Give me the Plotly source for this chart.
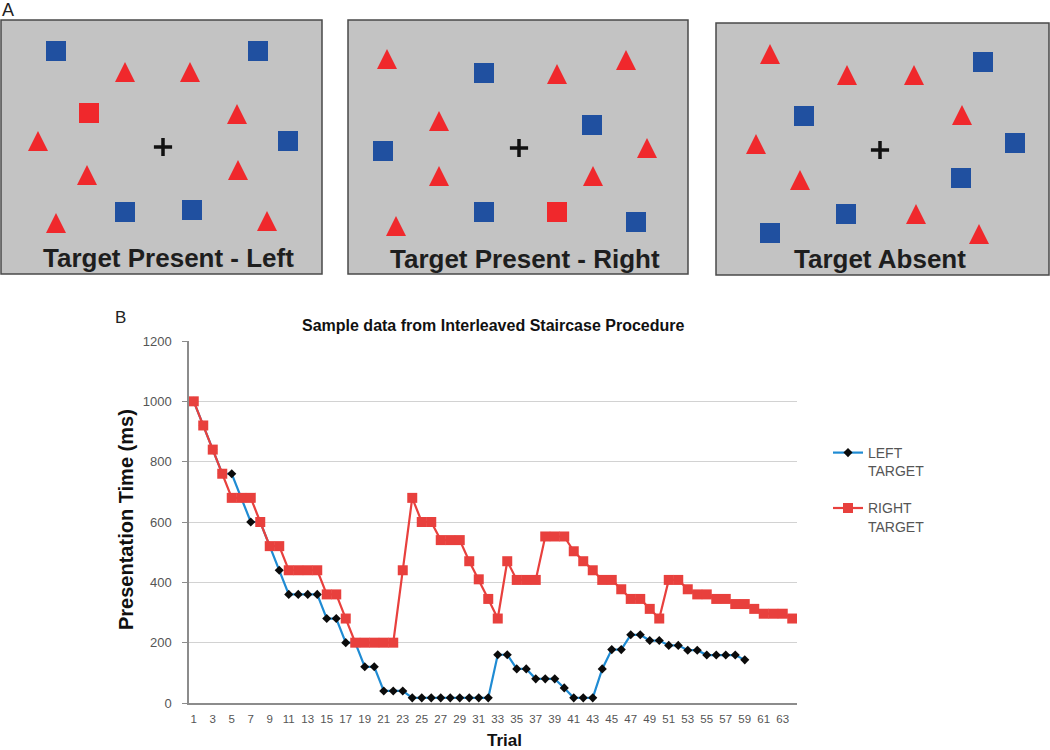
import plotly.graph_objects as go

# ---- panel B data: presentation time (ms) per trial ----
trials = list(range(1, 65))
left_target = [1000, 920, 840, 760, 760, 680, 600, 600, 520, 440,
               360, 360, 360, 360, 280, 280, 200, 200, 120, 120,
               40, 40, 40, 17, 17, 17, 17, 17, 17, 17,
               17, 17, 160, 160, 113, 113, 80, 80, 80, 50,
               17, 17, 17, 113, 177, 177, 226, 226, 207, 207,
               191, 191, 175, 175, 159, 159, 159, 159, 143]
right_target = [1000, 920, 840, 760, 680, 680, 680, 600, 520, 520,
                440, 440, 440, 440, 360, 360, 280, 200, 200, 200,
                200, 200, 440, 680, 600, 600, 540, 540, 540, 470,
                410, 345, 280, 470, 408, 408, 408, 552, 552, 552,
                503, 470, 440, 408, 408, 377, 345, 345, 312, 280,
                408, 408, 377, 360, 360, 345, 345, 328, 328, 312,
                296, 296, 296, 280]
x_tick_labels = [str(t) for t in trials if t % 2 == 1]

# ---- panel A stimulus displays (local px, x right / y down) ----
display_titles = ["Target Present - Left", "Target Present - Right", "Target Absent"]
blue_squares = [
    [(55, 31), (257, 31), (287, 121), (124, 192), (191, 190)],
    [(136, 53), (244, 105), (35, 131), (136, 192), (288, 202)],
    [(267, 39), (88, 93), (299, 120), (245, 155), (130, 191), (54, 210)],
]
red_squares = [[(88, 93)], [(209, 192)], []]
red_triangles = [
    [(124, 53), (189, 53), (236, 95), (37, 122), (86, 156), (237, 151), (55, 204), (266, 202)],
    [(39, 40), (91, 102), (209, 55), (278, 41), (299, 129), (91, 157), (245, 157), (48, 207)],
    [(54, 32), (131, 53), (198, 53), (246, 93), (40, 122), (84, 158), (200, 192), (263, 212)],
]
fixation = [(162, 127), (171, 128), (164, 127)]
title_pos = [(167, 238), (177, 239), (164, 236)]

W, H = 1050, 750
# display boxes on the page: left, top, right, bottom (px)
boxes = [(1, 20, 322, 274), (348, 20, 688, 274), (716, 23, 1049, 275)]

FONT = "Liberation Sans, Arial, sans-serif"
RED = "#f0282c"
BLUE = "#2050a0"

fig = go.Figure()
layout_axes = {}
shapes = []
annotations = []

for i, (l, t, r, b) in enumerate(boxes):
    n = i + 1
    xa, ya = ("x", "y") if n == 1 else (f"x{n}", f"y{n}")
    wpx, hpx = r - l, b - t
    layout_axes["xaxis" if n == 1 else f"xaxis{n}"] = dict(
        domain=[l / W, r / W], range=[0, wpx], visible=False, anchor=ya, fixedrange=True)
    layout_axes["yaxis" if n == 1 else f"yaxis{n}"] = dict(
        domain=[1 - b / H, 1 - t / H], range=[hpx, 0], visible=False, anchor=xa, fixedrange=True)
    shapes.append(dict(type="rect", xref=f"{xa} domain", yref=f"{ya} domain",
                       x0=0, x1=1, y0=0, y1=1, fillcolor="#c3c3c3",
                       line=dict(color="#4a4a4a", width=1.5), layer="below"))

    # triangles as filled outlines so they keep an equilateral-ish look
    tx, ty = [], []
    for cx, cy in red_triangles[i]:
        tx += [cx - 10, cx + 10, cx, cx - 10, None]
        ty += [cy + 9, cy + 9, cy - 11, cy + 9, None]
    fig.add_scatter(x=tx, y=ty, xaxis=xa, yaxis=ya, mode="lines", fill="toself",
                    fillcolor=RED, line=dict(width=0, color=RED), showlegend=False,
                    hoverinfo="skip")
    if blue_squares[i]:
        fig.add_scatter(x=[p[0] for p in blue_squares[i]], y=[p[1] for p in blue_squares[i]],
                        xaxis=xa, yaxis=ya, mode="markers", showlegend=False,
                        marker=dict(symbol="square", size=20, color=BLUE, line=dict(width=0)))
    if red_squares[i]:
        fig.add_scatter(x=[p[0] for p in red_squares[i]], y=[p[1] for p in red_squares[i]],
                        xaxis=xa, yaxis=ya, mode="markers", showlegend=False,
                        marker=dict(symbol="square", size=20, color=RED, line=dict(width=0)))
    fig.add_scatter(x=[fixation[i][0]], y=[fixation[i][1]], xaxis=xa, yaxis=ya,
                    mode="markers", showlegend=False,
                    marker=dict(symbol="cross-thin", size=13, line=dict(width=3.5, color="#111")))
    annotations.append(dict(xref=xa, yref=ya, x=title_pos[i][0], y=title_pos[i][1],
                            xanchor="center", yanchor="middle",
                            text=f"<b>{display_titles[i]}</b>", showarrow=False,
                            font=dict(family=FONT, size=26, color="#1e1e1e")))

# ---- panel B: staircase chart ----
fig.add_scatter(x=trials[:len(left_target)], y=left_target, xaxis="x4", yaxis="y4",
                name="LEFT<br>TARGET", legendgroup="l", mode="lines+markers",
                line=dict(color="#1f8bd3", width=2.2),
                marker=dict(symbol="diamond", size=7, color="#0b0b0b"))
fig.add_scatter(x=trials, y=right_target, xaxis="x4", yaxis="y4",
                name="RIGHT<br>TARGET", legendgroup="r", mode="lines+markers",
                line=dict(color="#e8403d", width=2.2),
                marker=dict(symbol="square", size=10, color="#e8403d"))

layout_axes["xaxis4"] = dict(
    domain=[189 / W, 797 / W], anchor="y4", range=[0.5, 64.5],
    tickvals=[t for t in trials if t % 2 == 1], ticktext=x_tick_labels,
    showgrid=False, zeroline=False, showline=True, linecolor="#8c8c8c", linewidth=2,
    ticks="", ticklabelstandoff=4, tickfont=dict(family=FONT, size=11.5, color="#555"))
layout_axes["yaxis4"] = dict(
    domain=[1 - 703 / H, 1 - 341 / H], anchor="x4", range=[0, 1200], dtick=200,
    showgrid=True, gridcolor="#d2d2d2", gridwidth=1.2, zeroline=False,
    showline=True, linecolor="#8c8c8c", linewidth=1.5,
    ticks="outside", ticklen=5, tickcolor="#8c8c8c", ticklabelstandoff=8,
    tickfont=dict(family=FONT, size=13, color="#555"))

annotations += [
    dict(xref="paper", yref="paper", x=8 / W, y=1 - 10 / H, text="A", showarrow=False,
         xanchor="center", yanchor="middle",
         font=dict(family=FONT, size=18, color="#222")),
    dict(xref="paper", yref="paper", x=120 / W, y=1 - 318 / H, text="B", showarrow=False,
         xanchor="center", yanchor="middle",
         font=dict(family=FONT, size=17, color="#222")),
    dict(xref="paper", yref="paper", x=493 / W, y=1 - 325 / H,
         xanchor="center", yanchor="middle",
         text="<b>Sample data from Interleaved Staircase Procedure</b>", showarrow=False,
         font=dict(family=FONT, size=16, color="#111")),
    dict(xref="paper", yref="paper", x=126 / W, y=1 - 520 / H, textangle=-90,
         xanchor="center", yanchor="middle",
         text="<b>Presentation Time (ms)</b>", showarrow=False,
         font=dict(family=FONT, size=20, color="#111")),
    dict(xref="paper", yref="paper", x=504 / W, y=1 - 740 / H,
         xanchor="center", yanchor="middle",
         text="<b>Trial</b>", showarrow=False,
         font=dict(family=FONT, size=17, color="#111")),
]

fig.update_layout(
    width=W, height=H, autosize=False,
    margin=dict(l=0, r=0, t=0, b=0, autoexpand=False),
    paper_bgcolor="white", plot_bgcolor="rgba(0,0,0,0)",
    shapes=shapes, annotations=annotations,
    showlegend=True,
    legend=dict(x=828 / W, y=1 - 437 / H, xanchor="left", yanchor="top",
                font=dict(family=FONT, size=14, color="#555"),
                tracegroupgap=16, valign="top", bgcolor="rgba(0,0,0,0)"),
    **layout_axes,
)

# the page body has a default 8px margin; drop it so the figure sits at (0, 0)
fig.write_html("out.html", config={"displayModeBar": False},
               post_script="document.body.style.margin = '0';")
